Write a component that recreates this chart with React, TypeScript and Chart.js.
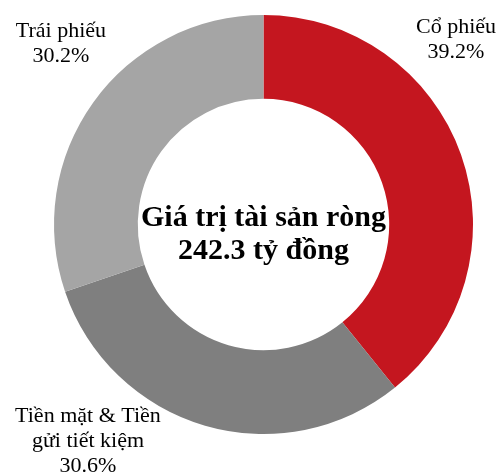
import React, { useEffect, useRef } from "react";
import { Chart, registerables } from "chart.js";

Chart.register(...registerables);

const categories = ["Cổ phiếu", "Tiền mặt & Tiền gửi tiết kiệm", "Trái phiếu"];
const values = [39.2, 30.6, 30.2];
const colors = ["#C4161F", "#7F7F7F", "#A5A5A5"];
const labelLines = [
  ["Cổ phiếu", "39.2%"],
  ["Tiền mặt & Tiền", "gửi tiết kiệm", "30.6%"],
  ["Trái phiếu", "30.2%"],
];
const centerLines = ["Giá trị tài sản ròng", "242.3 tỷ đồng"];
// label anchor (baseline of first line) relative to chart center, in fractions of outer radius
const labelAnchors = [
  [0.919, -0.916],
  [-0.838, 0.945],
  [-0.967, -0.894],
];

const labelsPlugin = {
  id: "customLabels",
  afterDraw(chart: any) {
    const ctx = chart.ctx;
    const meta = chart.getDatasetMeta(0);
    const arc = meta.data[0];
    if (!arc) return;
    const cx = arc.x;
    const cy = arc.y;
    const r = arc.outerRadius;
    ctx.save();
    ctx.fillStyle = "#000";
    ctx.textAlign = "center";
    ctx.textBaseline = "alphabetic";
    ctx.font = '22px "Liberation Serif", "Times New Roman", serif';
    labelLines.forEach((lines, i) => {
      const ax = cx + labelAnchors[i][0] * r;
      const ay = cy + labelAnchors[i][1] * r;
      lines.forEach((t, j) => {
        ctx.fillText(t, ax, ay + j * 25);
      });
    });
    ctx.font = 'bold 30px "Liberation Serif", "Times New Roman", serif';
    ctx.fillText(centerLines[0], cx, cy + 1);
    ctx.fillText(centerLines[1], cx, cy + 34);
    ctx.restore();
  },
};

export default function App() {
  const ref = useRef<HTMLCanvasElement>(null);
  useEffect(() => {
    if (!ref.current) return;
    const chart = new Chart(ref.current, {
      type: "doughnut",
      data: {
        labels: categories,
        datasets: [
          {
            data: values,
            backgroundColor: colors,
            borderWidth: 0,
          },
        ],
      },
      options: {
        animation: false,
        responsive: false,
        cutout: "60%",
        layout: { padding: { left: 54, right: 26, top: 15, bottom: 40 } },
        plugins: {
          legend: { display: false },
          tooltip: { enabled: false },
        },
      },
      plugins: [labelsPlugin],
    });
    return () => chart.destroy();
  }, []);
  return (
    <div style={{ position: "absolute", left: 0, top: 0, width: 499, height: 474, background: "#fff" }}>
      <canvas ref={ref} width={499} height={474} style={{ width: 499, height: 474 }} />
    </div>
  );
}
